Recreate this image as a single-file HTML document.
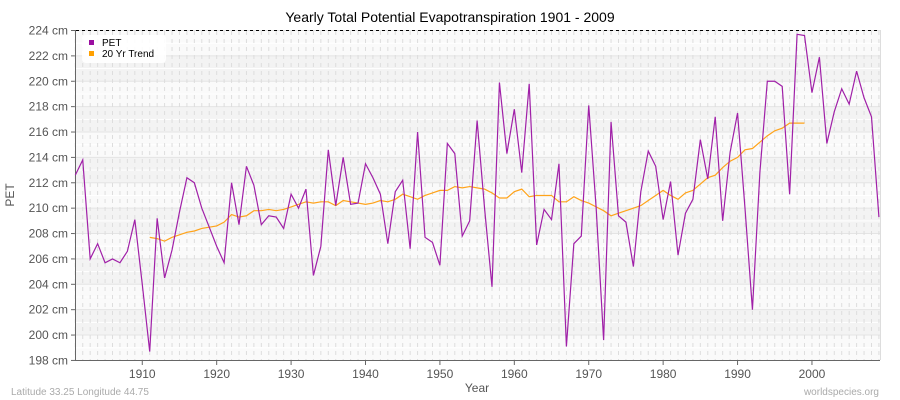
<!DOCTYPE html><html><head><meta charset="utf-8"><style>body{margin:0;background:#fff}svg{display:block;font-family:"Liberation Sans","DejaVu Sans",sans-serif}</style></head><body>
<svg id="s" width="900" height="400" xmlns="http://www.w3.org/2000/svg"></svg>
<script>
const pet=[212.6,213.8,206.0,207.2,205.7,206.0,205.7,206.6,209.1,204.0,198.7,209.2,204.5,206.7,209.7,212.4,212.0,210.0,208.5,207.0,205.7,212.0,208.7,213.3,211.8,208.7,209.4,209.3,208.4,211.1,210.0,211.5,204.7,207.0,214.6,210.2,214.0,210.3,210.4,213.5,212.4,211.1,207.2,211.3,212.2,206.8,216.0,207.7,207.3,205.5,215.1,214.3,207.8,209.0,216.9,210.0,203.8,219.9,214.3,217.8,212.8,219.8,207.1,209.9,209.1,213.5,199.1,207.2,207.8,218.1,210.0,199.6,216.8,209.4,208.9,205.4,211.3,214.5,213.3,209.1,212.1,206.3,209.6,210.7,215.4,212.3,217.2,209.0,214.4,217.5,210.0,202.0,212.8,220.0,220.0,219.6,211.1,223.7,223.6,219.1,221.9,215.1,217.6,219.4,218.2,220.8,218.7,217.2,209.3];
const tr=[207.7,207.6,207.4,207.7,207.9,208.1,208.2,208.4,208.5,208.6,208.9,209.5,209.3,209.4,209.8,209.8,209.9,209.8,209.9,210.1,210.3,210.5,210.4,210.5,210.5,210.2,210.6,210.5,210.4,210.3,210.4,210.6,210.5,210.7,211.1,210.9,210.7,211.0,211.2,211.4,211.4,211.7,211.6,211.7,211.6,211.5,211.2,210.8,210.8,211.3,211.5,210.9,211.0,211.0,211.0,210.5,210.5,210.9,210.6,210.4,210.1,209.8,209.4,209.6,209.8,210.0,210.2,210.6,211.0,211.4,211.0,210.7,211.2,211.4,211.9,212.4,212.6,213.2,213.7,214.0,214.6,214.7,215.2,215.7,216.1,216.3,216.7,216.7,216.7];
const X=y=>75.3+(y-1901)*7.441, Y=v=>30.5+(224-v)*12.69;
let h='<text x="450" y="22" text-anchor="middle" font-size="14" fill="#000">Yearly Total Potential Evapotranspiration 1901 - 2009</text>';
for(let i=0;i<13;i++){const y0=Y(224-2*i),y1=Y(222-2*i);h+=`<rect x="76" y="${y0}" width="804" height="${y1-y0}" fill="${i%2?'#f3f3f3':'#fafafa'}"/>`;h+=`<line x1="76" x2="880" y1="${(y0+y1)/2}" y2="${(y0+y1)/2}" stroke="#fff" stroke-width="1"/>`;}
for(let i=0;i<=13;i++){const y=Y(198+2*i);h+=`<line x1="76" x2="880" y1="${y}" y2="${y}" stroke="#e4e4e4"/>`;h+=`<line x1="71" x2="76" y1="${y}" y2="${y}" stroke="#666"/>`;h+=`<text x="68" y="${y+4}" text-anchor="end" font-size="12" fill="#555">${198+2*i} cm</text>`;}
for(let yr=1901;yr<=2009;yr++){const x=X(yr);h+=`<line x1="${x}" x2="${x}" y1="31" y2="360" stroke="#ddd" stroke-dasharray="4,4"/>`;}
for(let yr=1910;yr<=2000;yr+=10){const x=X(yr);h+=`<line x1="${x}" x2="${x}" y1="360" y2="365" stroke="#666"/><text x="${x}" y="378" text-anchor="middle" font-size="12" fill="#555">${yr}</text>`;}
h+='<line x1="76" x2="880" y1="30.5" y2="30.5" stroke="#000" stroke-dasharray="3,3"/>';
h+='<line x1="880.5" x2="880.5" y1="30" y2="360" stroke="#ddd"/>';
h+='<line x1="75.5" x2="75.5" y1="30" y2="360" stroke="#666"/><line x1="75" x2="880" y1="360.5" y2="360.5" stroke="#666"/>';
h+=`<polyline fill="none" stroke="#ffa31a" stroke-width="1.2" points="${tr.map((v,i)=>X(1911+i)+','+Y(v)).join(' ')}"/>`;
h+=`<polyline fill="none" stroke="#a020a8" stroke-width="1.2" points="${pet.map((v,i)=>X(1901+i)+','+Y(v)).join(' ')}"/>`;
h+='<rect x="82" y="35" width="84" height="28" rx="4" fill="#fff" opacity="0.9"/><rect x="89" y="40" width="5" height="5" fill="#9a0ea0"/><text x="102" y="46" font-size="10">PET</text><rect x="89" y="51" width="5" height="5" fill="#ffa000"/><text x="102" y="57" font-size="10">20 Yr Trend</text>';
h+='<text x="477" y="392" text-anchor="middle" font-size="12" fill="#555">Year</text>';
h+='<text transform="translate(14,195) rotate(-90)" text-anchor="middle" font-size="12" fill="#555">PET</text>';
h+='<text x="11" y="395" font-size="10" fill="#aaa">Latitude 33.25 Longitude 44.75</text><text x="879" y="395" text-anchor="end" font-size="10" fill="#aaa">worldspecies.org</text>';
document.getElementById('s').innerHTML=h;
</script></body></html>
